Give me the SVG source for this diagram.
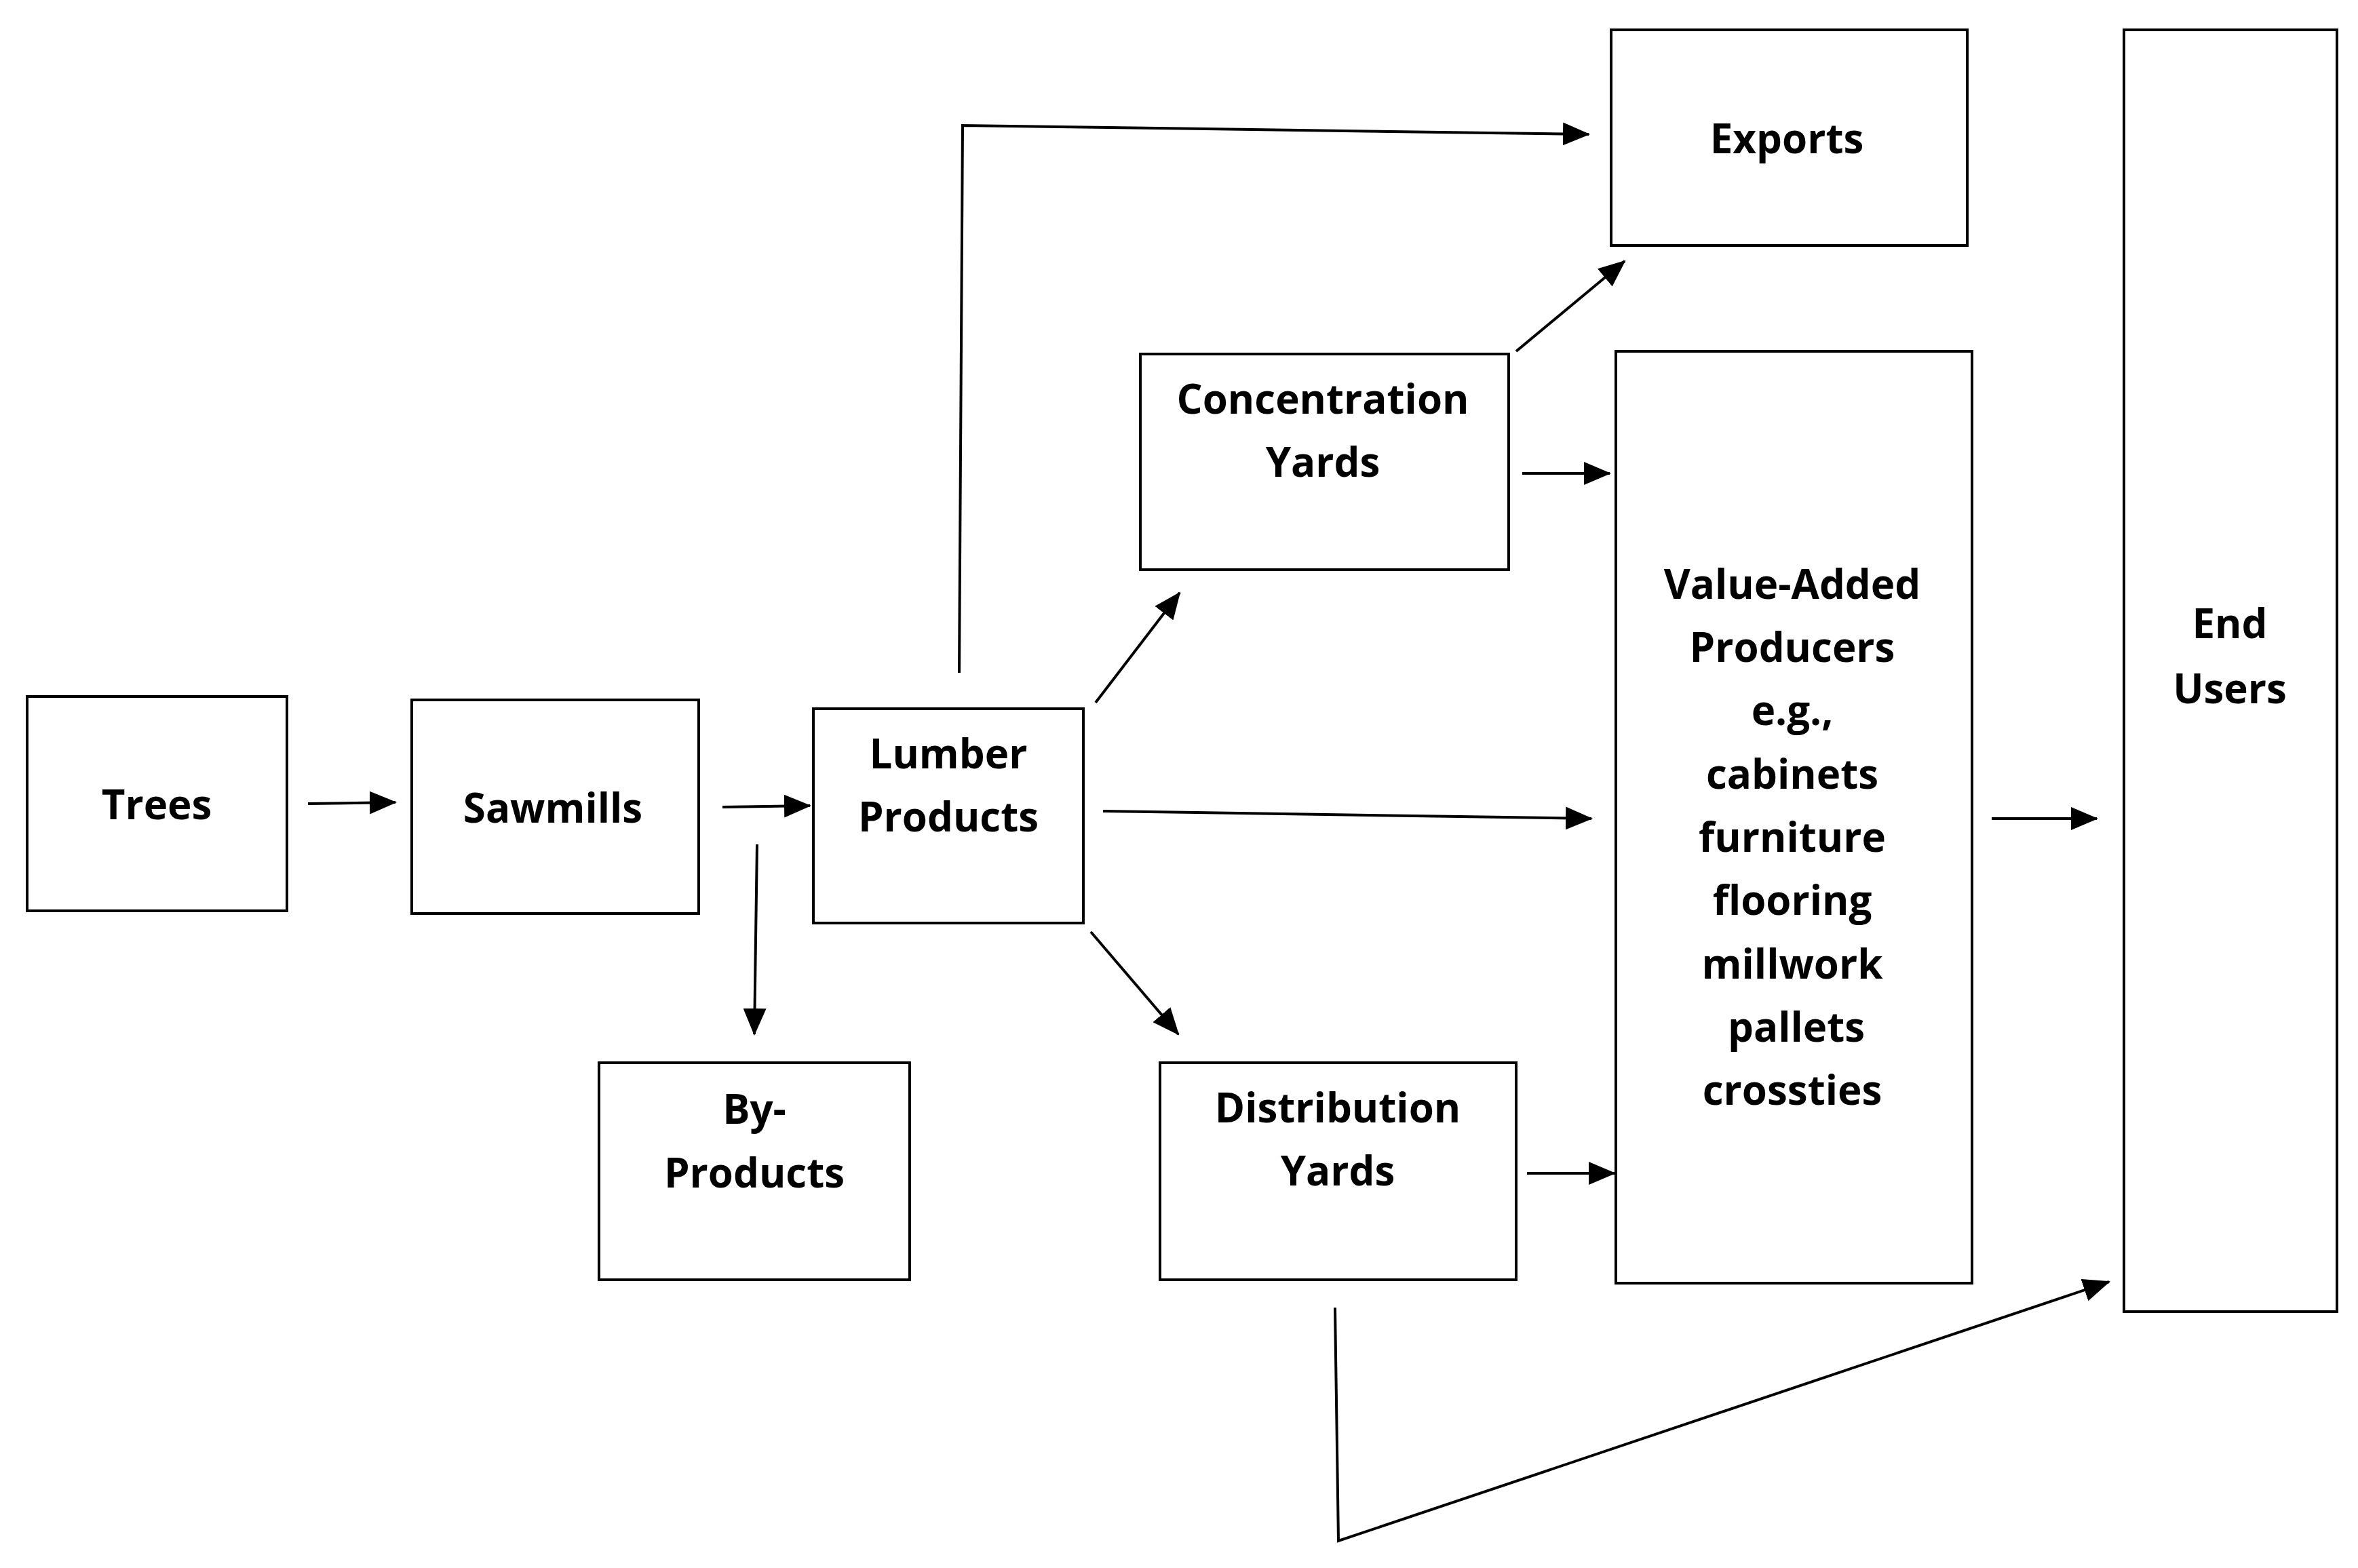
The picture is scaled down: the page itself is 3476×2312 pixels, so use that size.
<svg xmlns="http://www.w3.org/2000/svg" width="3476" height="2312" viewBox="0 0 3476 2312">
<style>
.b{fill:#fff;stroke:#000;stroke-width:4}
.t{font-family:"Open Sans","Liberation Sans",sans-serif;font-weight:bold;font-size:60px;text-anchor:middle;fill:#000}
.c{fill:none;stroke:#000;stroke-width:4}
</style>
<defs><marker id="a" markerUnits="userSpaceOnUse" markerWidth="40" markerHeight="34" refX="38" refY="17" orient="auto"><path d="M0,0L40,17L0,34Z" fill="#000"/></marker></defs>
<rect width="3476" height="2312" fill="#fff"/>
<g id="trees"><rect class="b" x="40" y="1027" width="383" height="316"/><text class="t" x="231" y="1208">Trees</text></g>
<g id="sawmills"><rect class="b" x="607" y="1032" width="423" height="315"/><text class="t" x="815" y="1213">Sawmills</text></g>
<g id="lumber"><rect class="b" x="1199" y="1045" width="398" height="316"/><text class="t" x="1398" y="1133">Lumber</text><text class="t" x="1398" y="1226">Products</text></g>
<g id="byproducts"><rect class="b" x="883" y="1567" width="458" height="320"/><text class="t" x="1112" y="1657">By-</text><text class="t" x="1112" y="1751">Products</text></g>
<g id="concentration"><rect class="b" x="1681" y="522" width="543" height="318"/><text class="t" x="1950" y="610">Concentration</text><text class="t" x="1950" y="703">Yards</text></g>
<g id="distribution"><rect class="b" x="1710" y="1567" width="525" height="320"/><text class="t" x="1972" y="1655">Distribution</text><text class="t" x="1972" y="1748">Yards</text></g>
<g id="exports"><rect class="b" x="2375" y="44" width="525" height="318"/><text class="t" x="2634" y="226">Exports</text></g>
<g id="valueadded"><rect class="b" x="2382" y="518" width="525" height="1374"/>
<text class="t" x="2642" y="883">Value-Added</text><text class="t" x="2642" y="976">Producers</text><text class="t" x="2642" y="1069">e.g.,</text><text class="t" x="2642" y="1163">cabinets</text><text class="t" x="2642" y="1256">furniture</text><text class="t" x="2642" y="1349">flooring</text><text class="t" x="2642" y="1443">millwork</text><text class="t" x="2648" y="1536">pallets</text><text class="t" x="2642" y="1629">crossties</text></g>
<g id="endusers"><rect class="b" x="3131" y="44" width="314" height="1890"/><text class="t" x="3287" y="941">End</text><text class="t" x="3287" y="1037">Users</text></g>
<g id="connectors">
<path class="c" marker-end="url(#a)" d="M454,1185L583,1183"/>
<path class="c" marker-end="url(#a)" d="M1065,1190L1194,1188"/>
<path class="c" marker-end="url(#a)" d="M1116,1245L1112,1525"/>
<path class="c" marker-end="url(#a)" d="M1414,992L1419,185L2342,198"/>
<path class="c" marker-end="url(#a)" d="M1615,1036L1739,874"/>
<path class="c" marker-end="url(#a)" d="M1626,1196L2346,1207"/>
<path class="c" marker-end="url(#a)" d="M1608,1374L1737,1525"/>
<path class="c" marker-end="url(#a)" d="M2235,518L2395,385"/>
<path class="c" marker-end="url(#a)" d="M2244,698L2373,698"/>
<path class="c" marker-end="url(#a)" d="M2251,1730L2380,1730"/>
<path class="c" marker-end="url(#a)" d="M2936,1207L3091,1207"/>
<path class="c" marker-end="url(#a)" d="M1968,1928L1973,2272L3109,1890"/>
</g>
</svg>
